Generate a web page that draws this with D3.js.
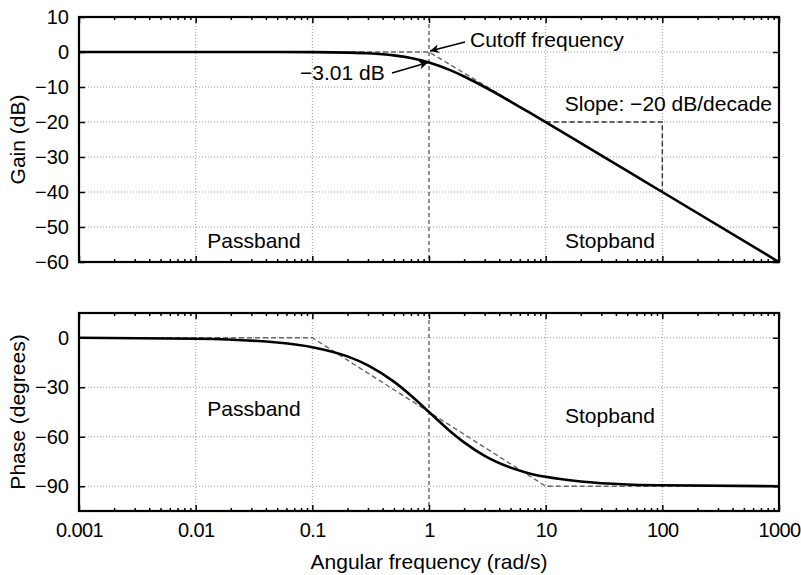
<!DOCTYPE html>
<html>
<head>
<meta charset="utf-8">
<script src="https://cdn.jsdelivr.net/npm/d3@7"></script>
<style>
  body { margin: 0; background: #fff; }
  text { font-family: "Liberation Sans", Arial, Helvetica, sans-serif; }
</style>
</head>
<body>
<svg id="chart" width="801" height="575"></svg>
<script>
(function(){
    // values
    var freq  = [0.001, 0.01, 0.05, 0.1, 0.2, 0.3, 0.5, 0.7, 1, 1.5, 2, 3, 5, 7, 10, 20, 50, 100, 1000];
    var gain  = [0, 0, -0.01, -0.04, -0.17, -0.37, -0.97, -1.73, -3.01, -5.12, -6.99, -10, -14.15, -16.99, -20.04, -26.03, -33.98, -40, -60];
    var phase = [0, -0.6, -2.9, -5.7, -11.3, -16.7, -26.6, -35, -45, -56.3, -63.4, -71.6, -78.7, -81.9, -84.3, -87.1, -88.9, -89.4, -90];

    var gainAsym  = [[0.001, 0], [1, 0], [1000, -60]];
    var phaseAsym = [[0.001, 0], [0.1, 0], [10, -90], [1000, -90]];
    var slopeBox  = [[10, -20], [100, -20], [100, -40]];
    var cutoff = 1, cutoffGain = -3.01;

    var xTicks = [0.001, 0.01, 0.1, 1, 10, 100, 1000];
    var xLabels = ['0.001', '0.01', '0.1', '1', '10', '100', '1000'];
    var gainTicks = [10, 0, -10, -20, -30, -40, -50, -60];
    var phaseTicks = [0, -30, -60, -90];

    var L = 79, R = 779;
    var fs = '21px', tfs = '20px';
    var svg = d3.select('#chart');

    var x = d3.scaleLog().domain([0.001, 1000]).range([L, R]);
    var yG = d3.scaleLinear().domain([-60, 10]).range([262, 17]);
    var yP = d3.scaleLinear().domain([-105, 15]).range([511, 313]);

    var minor = [];
    xTicks.slice(0, -1).forEach(function(d){
        for (var k = 2; k < 10; k++) minor.push(d * k);
    });

    var defs = svg.append('defs');
    defs.append('marker')
        .attr('id', 'arrow')
        .attr('viewBox', '0 0 10 10')
        .attr('refX', 10).attr('refY', 5)
        .attr('markerUnits', 'userSpaceOnUse')
        .attr('markerWidth', 13).attr('markerHeight', 9)
        .attr('orient', 'auto')
      .append('path')
        .attr('d', 'M0,0L10,5L0,10L3,5Z')
        .attr('fill', '#000');

    var minus = function(d){ return d < 0 ? '\u2212' + Math.abs(d) : '' + d; };

    function panel(y, yTicks, top, bottom, label, showX){
        var g = svg.append('g');

        // grid
        g.selectAll('.vg').data(xTicks.slice(1, -1)).enter().append('line')
            .attr('x1', x).attr('x2', x)
            .attr('y1', top).attr('y2', bottom)
            .style('stroke', function(d){ return d === cutoff ? '#555' : '#999'; })
            .style('stroke-dasharray', function(d){ return d === cutoff ? '4,3' : '1,2'; })
            .style('stroke-width', function(d){ return d === cutoff ? 1.3 : 1; });
        g.selectAll('.hg').data(yTicks.filter(function(d){ return y(d) > top + 1 && y(d) < bottom - 1; }))
            .enter().append('line')
            .attr('x1', L).attr('x2', R)
            .attr('y1', y).attr('y2', y)
            .style('stroke', '#999')
            .style('stroke-dasharray', '1,2');

        // ticks, inside, on every side
        g.append('g').attr('transform', 'translate(0,' + bottom + ')')
            .call(d3.axisBottom(x).tickValues(minor).tickSize(-3).tickFormat(''));
        g.append('g').attr('transform', 'translate(0,' + top + ')')
            .call(d3.axisTop(x).tickValues(minor).tickSize(-3).tickFormat(''));
        g.append('g').attr('transform', 'translate(0,' + top + ')')
            .call(d3.axisTop(x).tickValues(xTicks).tickSize(-6).tickFormat(''));
        var xb = g.append('g').attr('transform', 'translate(0,' + bottom + ')')
            .call(d3.axisBottom(x).tickValues(xTicks).tickSize(-6).tickPadding(12)
                .tickFormat(function(d, i){ return showX ? xLabels[i] : ''; }));
        g.append('g').attr('transform', 'translate(' + L + ',0)')
            .call(d3.axisLeft(y).tickValues(yTicks).tickSize(-6).tickPadding(10).tickFormat(minus));
        g.append('g').attr('transform', 'translate(' + R + ',0)')
            .call(d3.axisRight(y).tickValues(yTicks).tickSize(-6).tickFormat(''));

        g.selectAll('.domain').remove();
        g.selectAll('.tick line').style('stroke', '#000').style('stroke-width', 1.5);
        g.selectAll('.tick text').style('font-size', tfs).style('fill', '#000')
            .style('font-family', '"Liberation Sans", Arial, sans-serif');
        xb.selectAll('.tick text').style('letter-spacing', '-0.6px');

        // frame
        g.append('rect')
            .attr('x', L).attr('y', top)
            .attr('width', R - L).attr('height', bottom - top)
            .style('fill', 'none').style('stroke', '#000').style('stroke-width', 2.2);

        // axis label
        g.append('text')
            .attr('transform', 'translate(25,' + ((top + bottom) / 2) + ') rotate(-90)')
            .attr('text-anchor', 'middle')
            .style('font-size', fs)
            .text(label);
        return g;
    }

    var line = d3.line()
        .x(function(d){ return x(d[0]); })
        .curve(d3.curveMonotoneX);

    // ---- gain panel
    var top = panel(yG, gainTicks, 17, 262, 'Gain (dB)', false);
    top.append('path').datum(gainAsym)
        .attr('d', line.y(function(d){ return yG(d[1]); }).curve(d3.curveLinear))
        .style('fill', 'none').style('stroke', '#666').style('stroke-width', 1.4)
        .style('stroke-dasharray', '5,3');
    top.append('path').datum(slopeBox)
        .attr('d', line)
        .style('fill', 'none').style('stroke', '#333').style('stroke-width', 1.4)
        .style('stroke-dasharray', '5,3');
    top.append('path').datum(d3.zip(freq, gain))
        .attr('d', line.curve(d3.curveMonotoneX))
        .style('fill', 'none').style('stroke', '#000').style('stroke-width', 2.6);

    // ---- phase panel
    var bot = panel(yP, phaseTicks, 313, 511, 'Phase (degrees)', true);
    bot.append('path').datum(phaseAsym)
        .attr('d', line.y(function(d){ return yP(d[1]); }).curve(d3.curveLinear))
        .style('fill', 'none').style('stroke', '#666').style('stroke-width', 1.4)
        .style('stroke-dasharray', '5,3');
    bot.append('path').datum(d3.zip(freq, phase))
        .attr('d', line.curve(d3.curveMonotoneX))
        .style('fill', 'none').style('stroke', '#000').style('stroke-width', 2.6);

    svg.append('text')
        .attr('x', (L + R) / 2).attr('y', 569)
        .attr('text-anchor', 'middle')
        .style('font-size', fs)
        .text('Angular frequency (rad/s)');

    // ---- annotations
    function note(txt, px, py, anchor){
        return svg.append('text').attr('x', px).attr('y', py)
            .attr('text-anchor', anchor || 'start')
            .style('font-size', fs).text(txt);
    }
    note('Cutoff frequency', 470, 47);
    note('\u22123.01 dB', 300, 80);
    note('Slope: \u221220 dB/decade', 772, 111, 'end');
    note('Passband', 254, 248, 'middle');
    note('Stopband', 610, 248, 'middle');
    note('Passband', 254, 416, 'middle');
    note('Stopband', 610, 423, 'middle');

    svg.append('line')
        .attr('x1', 465).attr('y1', 42)
        .attr('x2', x(cutoff) + 1).attr('y2', yG(0) - 1)
        .style('stroke', '#000').style('stroke-width', 1.6)
        .attr('marker-end', 'url(#arrow)');
    svg.append('line')
        .attr('x1', 392).attr('y1', 73)
        .attr('x2', x(cutoff) - 1).attr('y2', yG(cutoffGain))
        .style('stroke', '#000').style('stroke-width', 1.6)
        .attr('marker-end', 'url(#arrow)');
})();
</script>
</body>
</html>
